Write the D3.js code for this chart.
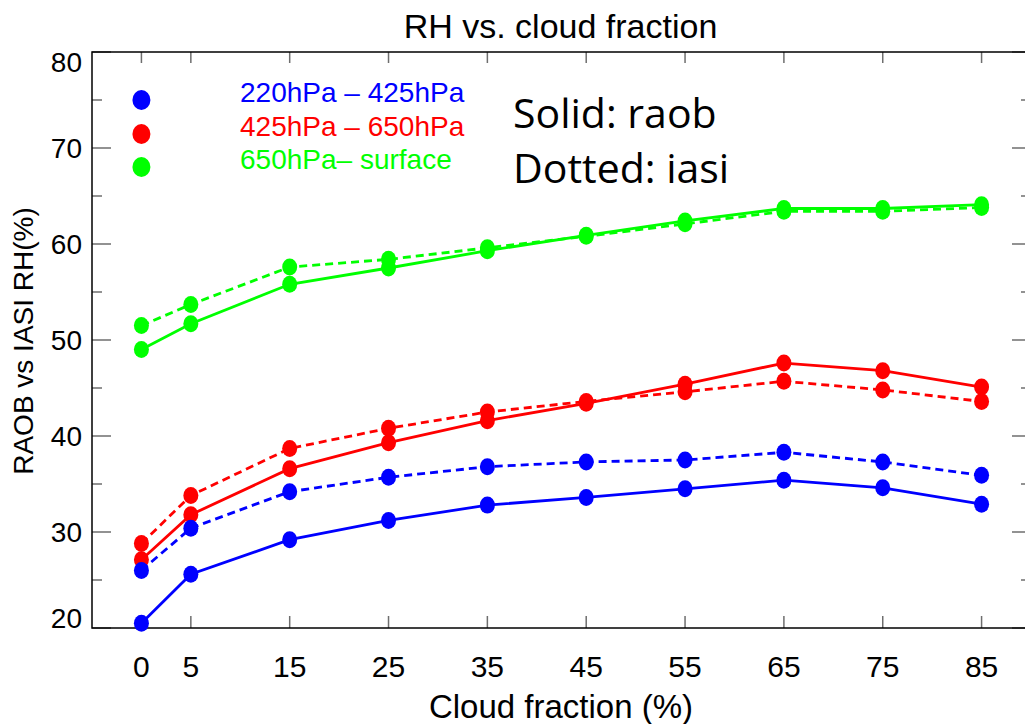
<!DOCTYPE html>
<html>
<head>
<meta charset="utf-8">
<script src="https://cdn.jsdelivr.net/npm/d3@7"></script>
<style>
  html, body { margin: 0; padding: 0; background: #fff; }
  svg { display: block; }
</style>
</head>
<body>
<svg id="chart" width="1025" height="724"></svg>
<script>
// ---- data ----
const cloudFraction = [0, 5, 15, 25, 35, 45, 55, 65, 75, 85];
const raob_220_425 = [20.5, 25.6, 29.2, 31.2, 32.8, 33.6, 34.5, 35.4, 34.6, 32.9];
const iasi_220_425 = [26.0, 30.4, 34.2, 35.7, 36.8, 37.3, 37.5, 38.3, 37.3, 35.9];
const raob_425_650 = [27.1, 31.8, 36.6, 39.3, 41.6, 43.4, 45.4, 47.6, 46.8, 45.1];
const iasi_425_650 = [28.8, 33.8, 38.7, 40.8, 42.5, 43.6, 44.6, 45.7, 44.8, 43.6];
const raob_650_sfc = [49.0, 51.7, 55.8, 57.5, 59.3, 60.9, 62.4, 63.7, 63.7, 64.1];
const iasi_650_sfc = [51.5, 53.7, 57.6, 58.4, 59.6, 60.8, 62.1, 63.4, 63.4, 63.8];
const layerNames = ["220hPa – 425hPa", "425hPa – 650hPa", "650hPa– surface"];
const layerColors = ["#0000ff", "#ff0000", "#00ff00"];
const yMajorTicks = [20, 30, 40, 50, 60, 70, 80];
const yMinorTicks = [25, 35, 45, 55, 65, 75];
const titleText = "RH vs. cloud fraction";
const xTitle = "Cloud fraction (%)";
const yTitle = "RAOB vs IASI RH(%)";
const noteLines = ["Solid: raob", "Dotted: iasi"];

// ---- layout ----
const svg = d3.select("#chart");
const L = 92, R = 1031, T = 52, B = 628;
const x = d3.scaleLinear().domain([-5, 90]).range([L, R]);
const y = d3.scaleLinear().domain([20, 80]).range([B, T]);
const tickColor = "#6e6e6e";
const hershey = "'Liberation Sans', Arial, sans-serif";

// ticks
const g = svg.append("g");
g.selectAll(".bt").data(cloudFraction).enter().append("line")
  .attr("x1", d => x(d)).attr("x2", d => x(d))
  .attr("y1", B).attr("y2", B - 12)
  .attr("stroke", tickColor).attr("stroke-width", 1.5);
g.selectAll(".tt").data(cloudFraction).enter().append("line")
  .attr("x1", d => x(d)).attr("x2", d => x(d))
  .attr("y1", T).attr("y2", T + 11)
  .attr("stroke", tickColor).attr("stroke-width", 1.5);
[[L, 1], [R, -1]].forEach(([x0, dir]) => {
  g.selectAll(null).data(yMajorTicks).enter().append("line")
    .attr("x1", x0).attr("x2", x0 + dir * 19)
    .attr("y1", d => y(d)).attr("y2", d => y(d))
    .attr("stroke", tickColor).attr("stroke-width", 1.5);
  g.selectAll(null).data(yMinorTicks).enter().append("line")
    .attr("x1", x0).attr("x2", x0 + dir * 10)
    .attr("y1", d => y(d)).attr("y2", d => y(d))
    .attr("stroke", tickColor).attr("stroke-width", 1.5);
});

// frame
svg.append("rect").attr("x", L).attr("y", T).attr("width", R - L).attr("height", B - T)
  .attr("fill", "none").attr("stroke", "#000").attr("stroke-width", 1.5);

// x tick labels
svg.append("g").selectAll("text").data(cloudFraction).enter().append("text")
  .attr("x", d => x(d)).attr("y", 677)
  .attr("text-anchor", "middle")
  .attr("font-family", hershey).attr("font-size", 30).attr("fill", "#000")
  .text(d => d);

// y tick labels
svg.append("g").selectAll("text").data(yMajorTicks).enter().append("text")
  .attr("x", 82)
  .attr("y", d => d === 80 ? y(d) + 20 : (d === 20 ? y(d) : y(d) + 10))
  .attr("text-anchor", "end")
  .attr("font-family", hershey).attr("font-size", 28).attr("fill", "#000")
  .text(d => d);

// titles
svg.append("text").attr("x", (L + R) / 2 - 1).attr("y", 38)
  .attr("text-anchor", "middle").attr("font-family", hershey).attr("font-size", 34)
  .text(titleText);
svg.append("text").attr("x", 561).attr("y", 718)
  .attr("text-anchor", "middle").attr("font-family", hershey).attr("font-size", 33)
  .text(xTitle);
svg.append("text").attr("transform", "translate(33,341) rotate(-90)")
  .attr("text-anchor", "middle").attr("font-family", hershey).attr("font-size", 28)
  .text(yTitle);

// series
const series = [
  { vals: raob_650_sfc, c: 2, dash: null },
  { vals: iasi_650_sfc, c: 2, dash: "8,5" },
  { vals: raob_425_650, c: 1, dash: null },
  { vals: iasi_425_650, c: 1, dash: "8,5" },
  { vals: raob_220_425, c: 0, dash: null },
  { vals: iasi_220_425, c: 0, dash: "8,5" }
];
const line = d3.line().x((d, i) => x(cloudFraction[i])).y(d => y(d));
series.forEach(s => {
  const sg = svg.append("g");
  sg.append("path").datum(s.vals).attr("d", line)
    .attr("fill", "none").attr("stroke", layerColors[s.c])
    .attr("stroke-width", 2.8)
    .attr("stroke-dasharray", s.dash);
  sg.selectAll("ellipse").data(s.vals).enter().append("ellipse")
    .attr("cx", (d, i) => x(cloudFraction[i])).attr("cy", d => y(d))
    .attr("rx", 7.5).attr("ry", 8.5).attr("fill", layerColors[s.c]);
});

// legend
const legY = [100, 134, 167];
layerNames.forEach((name, i) => {
  svg.append("ellipse").attr("cx", x(0)).attr("cy", legY[i])
    .attr("rx", 9).attr("ry", 10).attr("fill", layerColors[i]);
  svg.append("text").attr("x", 240).attr("y", legY[i] + 1.5)
    .attr("font-family", hershey).attr("font-size", 28).attr("fill", layerColors[i])
    .text(name);
});

// note
svg.append("text").attr("x", 513).attr("y", 127.5)
  .attr("font-family", "'Open Sans', 'Noto Sans', sans-serif").attr("font-size", 41).attr("fill", "#000")
  .text(noteLines[0]);
svg.append("text").attr("x", 513).attr("y", 182.5)
  .attr("font-family", "'Open Sans', 'Noto Sans', sans-serif").attr("font-size", 41).attr("fill", "#000")
  .text(noteLines[1]);
</script>
</body>
</html>
